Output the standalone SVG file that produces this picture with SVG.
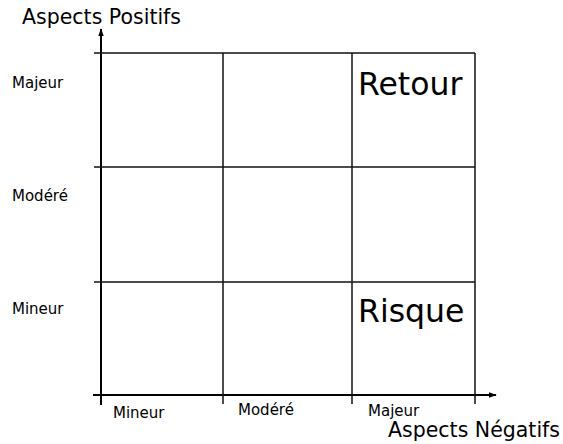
<svg xmlns="http://www.w3.org/2000/svg" width="563" height="444" viewBox="0 0 563 444">
<style>
text{font-family:"DejaVu Sans","Liberation Sans",sans-serif;fill:#000}
.axis{stroke:#000;stroke-width:2;fill:none}
.grid{stroke:#111;stroke-width:1.5;fill:none}
.lab{font-size:15px}
.title{font-size:20.5px}
.big{font-size:31.5px}
</style>
<defs>
<marker id="arr" viewBox="0 0 10 10" refX="9" refY="5" markerWidth="4" markerHeight="4" orient="auto" markerUnits="strokeWidth">
<path d="M0,1.5 L10,5 L0,8.5 z" fill="#000"/>
</marker>
</defs>
<rect width="563" height="444" fill="#fff"/>
<g id="connectors">
<line class="axis" x1="101" y1="405" x2="101" y2="29" marker-end="url(#arr)"/>
<line class="axis" x1="93" y1="395" x2="496" y2="395" marker-end="url(#arr)"/>
<line class="grid" x1="94" y1="53" x2="475" y2="53"/>
<line class="grid" x1="94" y1="167" x2="475" y2="167"/>
<line class="grid" x1="94" y1="282" x2="475" y2="282"/>
<line class="grid" x1="223" y1="53" x2="223" y2="404"/>
<line class="grid" x1="352" y1="53" x2="352" y2="404"/>
<line class="grid" x1="475" y1="53" x2="475" y2="404"/>
</g>
<g id="axis-y-title"><text class="title" x="22" y="24">Aspects Positifs</text></g>
<g id="axis-x-title"><text class="title" x="388" y="437">Aspects Négatifs</text></g>
<g id="y-labels">
<text class="lab" x="12" y="88">Majeur</text>
<text class="lab" x="12" y="201">Modéré</text>
<text class="lab" x="12" y="314">Mineur</text>
</g>
<g id="x-labels">
<text class="lab" x="113" y="418">Mineur</text>
<text class="lab" x="238" y="415">Modéré</text>
<text class="lab" x="368" y="416">Majeur</text>
</g>
<g id="retour"><text class="big" x="358" y="95">Retour</text></g>
<g id="risque"><text class="big" x="358" y="322">Risque</text></g>
</svg>
